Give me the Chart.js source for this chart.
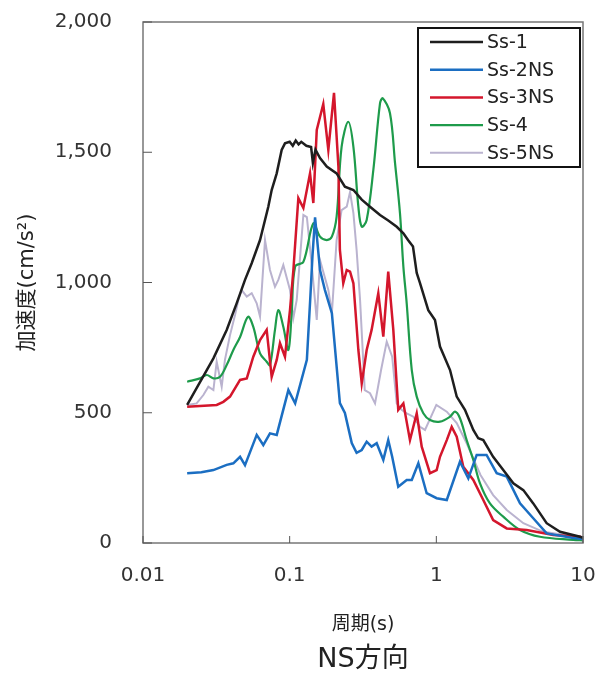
<!DOCTYPE html>
<html>
<head>
<meta charset="utf-8">
<script src="https://cdn.jsdelivr.net/npm/chart.js@4/dist/chart.umd.min.js"></script>
<style>
  html, body { margin: 0; padding: 0; background: #fff; }
</style>
</head>
<body>
<canvas id="myChart" width="599" height="673"></canvas>
<script>
// periods (s) and acceleration (cm/s2)
var labels = ["Ss-1", "Ss-2NS", "Ss-3NS", "Ss-4", "Ss-5NS"];
var colors = ["#1e1e1e", "#1b6ec2", "#d4162c", "#1e9b4b", "#bab3cf"];

var s1T = [0.02,0.0302,0.0372,0.0435,0.0496,0.0551,0.0628,0.0715,0.0754,0.0816,0.0882,0.0929,0.1,0.105,0.11,0.115,0.12,0.13,0.14,0.144,0.15,0.161,0.179,0.209,0.238,0.272,0.31,0.353,0.413,0.47,0.537,0.596,0.641,0.693,0.735,0.774,0.881,0.979,1.059,1.24,1.377,1.567,1.787,1.932,2.09,2.44,2.86,3.35,3.92,4.58,5.65,6.97,9.55,10];
var s1A = [530,709,818,920,1010,1074,1163,1291,1355,1419,1509,1534,1540,1525,1545,1530,1540,1525,1520,1459,1510,1478,1445,1419,1368,1355,1318,1291,1259,1238,1214,1189,1163,1138,1037,998,894,856,754,664,562,511,434,402,395,331,280,229,203,152,76,43,24,20];

var s2T = [0.02,0.025,0.0302,0.0372,0.0413,0.0459,0.0496,0.0596,0.0661,0.0734,0.0816,0.098,0.109,0.131,0.138,0.143,0.149,0.161,0.174,0.194,0.22,0.238,0.265,0.286,0.31,0.335,0.362,0.392,0.435,0.47,0.5,0.55,0.628,0.68,0.754,0.859,1.005,1.178,1.449,1.652,1.884,2.2,2.58,3.02,3.72,4.58,5.65,8.59,10];
var s2A = [268,272,280,300,306,331,299,415,376,421,415,587,536,703,933,1100,1250,1048,971,882,537,499,384,346,357,389,370,383,319,395,331,216,242,242,306,191,172,165,312,248,338,338,268,255,152,95,37,19,15];

var s3T = [0.02,0.0318,0.0353,0.0392,0.0459,0.051,0.0565,0.0628,0.0697,0.0754,0.0816,0.0859,0.0929,0.1005,0.106,0.1146,0.124,0.1377,0.145,0.153,0.1695,0.1835,0.2006,0.215,0.22,0.232,0.245,0.258,0.272,0.294,0.31,0.335,0.362,0.402,0.435,0.47,0.509,0.55,0.596,0.661,0.735,0.795,0.905,1.005,1.059,1.178,1.273,1.377,1.527,1.787,2.09,2.44,3.02,4.13,6.27,9.55,10];
var s3A = [523,530,542,562,626,632,715,779,818,638,703,767,715,894,1048,1324,1286,1419,1305,1586,1685,1509,1728,1445,1125,997,1048,1042,997,741,613,741,818,959,792,1042,818,511,536,395,498,370,268,280,331,395,446,408,293,242,165,88,56,50,31,24,20];

var s4T = [0.02,0.0245,0.0272,0.0302,0.0335,0.0372,0.0413,0.0459,0.052,0.0565,0.0628,0.0697,0.0734,0.0794,0.0837,0.0905,0.098,0.1032,0.109,0.124,0.145,0.161,0.179,0.194,0.209,0.226,0.251,0.272,0.294,0.31,0.335,0.372,0.413,0.431,0.483,0.523,0.565,0.596,0.628,0.68,0.735,0.815,0.905,1.059,1.24,1.34,1.449,1.61,1.787,1.985,2.32,2.86,3.72,5.09,8.59,10];
var s4A = [619,632,645,632,638,683,741,791,868,830,728,696,683,818,894,830,741,882,1061,1079,1227,1176,1163,1176,1253,1521,1617,1521,1291,1214,1240,1432,1688,1707,1650,1458,1266,1061,920,664,562,498,472,466,485,504,479,395,319,229,152,101,50,24,12,10];

var s5T = [0.02,0.0232,0.0258,0.0279,0.0302,0.0318,0.0344,0.0362,0.0392,0.0424,0.0447,0.0471,0.051,0.0551,0.0596,0.0628,0.0679,0.0734,0.0794,0.0837,0.0905,0.1005,0.106,0.1117,0.124,0.131,0.141,0.153,0.161,0.1835,0.194,0.209,0.226,0.245,0.258,0.272,0.286,0.302,0.325,0.353,0.382,0.42,0.459,0.5,0.537,0.58,0.628,0.697,0.774,0.837,1.0,1.178,1.377,1.61,2.0,2.44,3.02,3.92,5.36,9.06,10];
var s5A = [530,536,568,600,587,696,600,703,798,875,933,971,946,959,920,869,1163,1048,984,1010,1067,971,864,933,1259,1251,1074,856,1086,971,882,1163,1278,1291,1347,1266,1125,933,587,575,536,664,773,715,536,511,498,485,446,434,530,504,460,383,261,184,127,76,43,24,20];

var xTicks = [0.01, 0.1, 1, 10];
var yTicks = [0, 500, 1000, 1500, 2000];

var series = [[s1T, s1A], [s2T, s2A], [s3T, s3A], [s4T, s4A], [s5T, s5A]];
var widths = [2.5, 2.5, 2.5, 2.2, 2];

function pts(T, A) {
  return T.map(function (t, i) { return { x: t, y: A[i] }; });
}

var txtFont = '"DejaVu Sans", "Noto Sans CJK JP", sans-serif';

// legend box inside the plot, top right
var legendBox = {
  id: 'legendBox',
  afterDatasetsDraw: function (chart) {
    var ctx = chart.ctx, area = chart.chartArea;
    var x0 = area.right - 165, y0 = area.top + 6, w = 162, h = 139;
    ctx.save();
    ctx.fillStyle = '#fff';
    ctx.fillRect(x0, y0, w, h);
    ctx.strokeStyle = '#111';
    ctx.lineWidth = 2;
    ctx.strokeRect(x0, y0, w, h);
    ctx.font = '19px ' + txtFont;
    ctx.textBaseline = 'middle';
    chart.data.datasets.forEach(function (ds, i) {
      var y = y0 + 14 + i * 27.7;
      ctx.strokeStyle = ds.borderColor;
      ctx.lineWidth = ds.borderWidth;
      ctx.beginPath();
      ctx.moveTo(x0 + 12, y);
      ctx.lineTo(x0 + 65, y);
      ctx.stroke();
      ctx.fillStyle = '#222';
      ctx.fillText(ds.label, x0 + 69, y + 1);
    });
    ctx.restore();
  }
};

// plot frame and inward tick marks
var frameTicks = {
  id: 'frameTicks',
  afterDraw: function (chart) {
    var ctx = chart.ctx, a = chart.chartArea;
    var xs = chart.scales.x, ys = chart.scales.y;
    ctx.save();
    ctx.strokeStyle = '#777';
    ctx.lineWidth = 1.5;
    ctx.strokeRect(a.left, a.top, a.right - a.left, a.bottom - a.top);
    ctx.strokeStyle = '#555';
    ctx.lineWidth = 1;
    ctx.beginPath();
    yTicks.forEach(function (v) {
      var y = ys.getPixelForValue(v);
      ctx.moveTo(a.left, y);
      ctx.lineTo(a.left + 9, y);
    });
    xTicks.forEach(function (v) {
      var x = xs.getPixelForValue(v);
      ctx.moveTo(x, a.bottom);
      ctx.lineTo(x, a.bottom - 7);
    });
    ctx.stroke();
    ctx.restore();
  }
};

var ctx = document.getElementById('myChart').getContext('2d');
var myChart = new Chart(ctx, {
  type: 'line',
  data: {
    datasets: series.map(function (s, i) {
      return {
        label: labels[i],
        data: pts(s[0], s[1]),
        borderColor: colors[i],
        borderWidth: widths[i],
        pointRadius: 0,
        fill: false,
        tension: i == 3 ? 0.35 : 0
      };
    })
  },
  options: {
    responsive: false,
    animation: false,
    layout: { padding: { left: 0, right: 16, top: 22, bottom: 0 } },
    scales: {
      x: {
        type: 'logarithmic',
        min: 0.01,
        max: 10,
        afterBuildTicks: function (scale) {
          scale.ticks = xTicks.map(function (v) { return { value: v }; });
        },
        afterFit: function (scale) {
          scale.height = 97;
          scale.paddingLeft = 0;
          scale.paddingRight = 0;
        },
        grid: { display: false, drawTicks: false },
        border: { display: false },
        ticks: {
          autoSkip: false,
          maxRotation: 0,
          padding: 21,
          color: '#333',
          font: { family: txtFont, size: 20 },
          callback: function (v) { return String(v); }
        },
        title: {
          display: true,
          text: '周期(s)',
          color: '#222',
          font: { family: txtFont, size: 19 },
          padding: { top: 0, bottom: 4 }
        }
      },
      y: {
        min: 0,
        max: 2000,
        afterBuildTicks: function (scale) {
          scale.ticks = yTicks.map(function (v) { return { value: v }; });
        },
        afterFit: function (scale) {
          scale.width = 143;
          scale.paddingTop = 0;
          scale.paddingBottom = 0;
        },
        grid: { display: false, drawTicks: false },
        border: { display: false },
        ticks: {
          padding: 31,
          color: '#333',
          font: { family: txtFont, size: 20 },
          callback: function (v) { return v.toLocaleString('en-US'); }
        },
        title: {
          display: true,
          text: '加速度(cm/s²)',
          color: '#222',
          font: { family: txtFont, size: 21 },
          padding: { top: 15, bottom: 0 }
        }
      }
    },
    plugins: {
      legend: { display: false },
      tooltip: { enabled: false },
      title: {
        display: true,
        position: 'bottom',
        fullSize: false,
        text: 'NS方向',
        color: '#222',
        font: { family: txtFont, size: 27, weight: 'normal', lineHeight: 1 },
        padding: { top: 6, bottom: 0 }
      }
    }
  },
  plugins: [legendBox, frameTicks]
});
</script>
</body>
</html>
